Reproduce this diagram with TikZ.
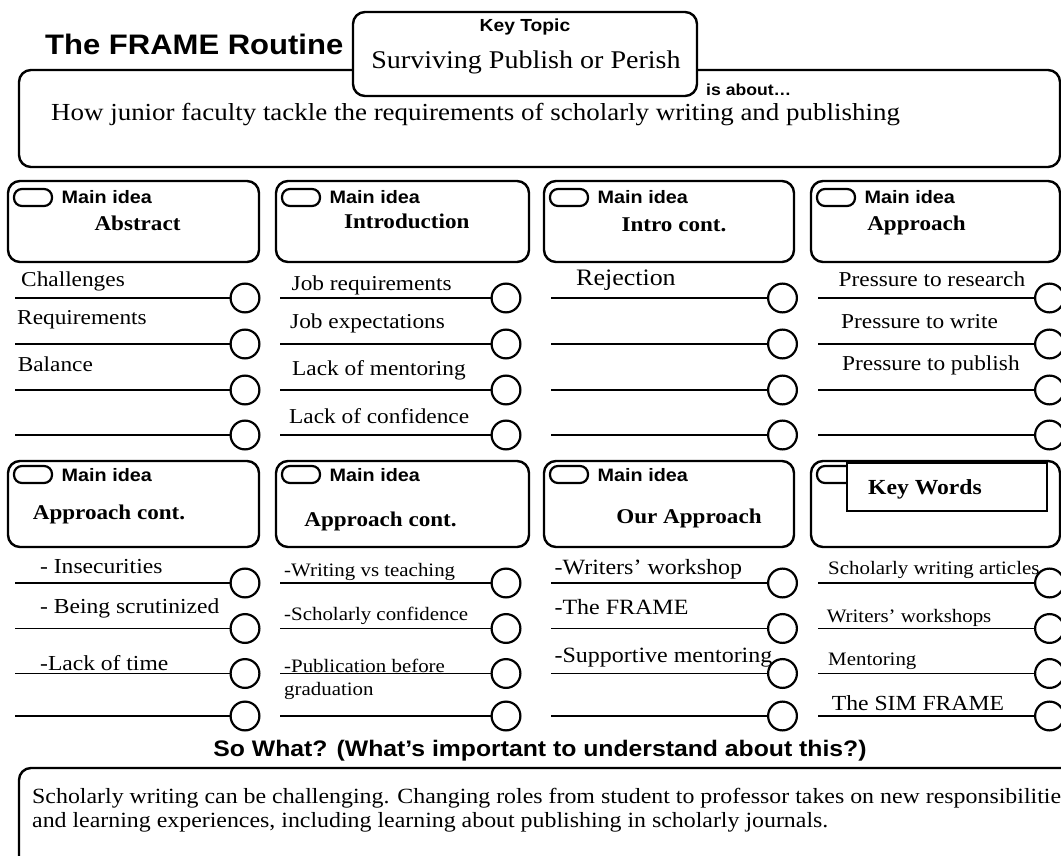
\documentclass[tikz,border=0pt]{standalone}
\usepackage{fontspec}
\setmainfont{Liberation Serif}[FakeStretch=1.1]
\setsansfont{Liberation Sans}[FakeStretch=1.1]
\begin{document}
\begin{tikzpicture}[x=1pt, y=-1pt,
    frame/.style={draw, line width=2.4pt, rounded corners=12pt, fill=white, inner sep=0pt},
    pill/.style={draw, line width=2.2pt, rounded corners=8pt, minimum width=38pt, minimum height=17pt, inner sep=0pt},
    dot/.style={draw, circle, line width=2.2pt, fill=white, minimum size=28.8pt, inner sep=0pt},
    rule/.style={line width=1.8pt},
    txt/.style={inner sep=0pt, anchor=base west},
    head/.style={txt, font=\sffamily\bfseries\fontsize{18}{20}\selectfont},
    idea/.style={inner sep=0pt, anchor=base, font=\bfseries\fontsize{21}{24}\selectfont},
    item/.style={txt, font=\fontsize{21.2}{24}\selectfont},
    small/.style={txt, font=\fontsize{19}{23}\selectfont},
  ]
    \useasboundingbox (0,0) rectangle (1061,856);
    \clip (0,0) rectangle (1061,856);

    \node[txt, font=\sffamily\bfseries\fontsize{28.2}{30}\selectfont] (title) at (45,55) {The FRAME Routine};
    \node[frame, minimum width=1041, minimum height=97] (about) at (539.5,118.5) {};
    \node[frame, minimum width=344, minimum height=84] (topic) at (525,54) {};
    \node[inner sep=0pt, anchor=base, font=\sffamily\bfseries\fontsize{17.5}{19}\selectfont] (keytopic) at (525,32) {Key Topic};
    \node[inner sep=0pt, anchor=base, font=\fontsize{25.5}{28}\selectfont] (topictext) at (526,68.4) {Surviving Publish or Perish};
    \node[txt, font=\sffamily\bfseries\fontsize{16}{18}\selectfont] (isabout) at (706,96) {is about…};
    \node[txt, font=\fontsize{24.5}{27}\selectfont] (abouttext) at (51,120.5) {How junior faculty tackle the requirements of scholarly writing and publishing};

    \foreach \c/\l/\r in {1/8/259, 2/276/529, 3/544/794, 4/811/1060} {
        \node[frame, minimum width=\r-\l, minimum height=81] (upper\c) at ({(\l+\r)/2},221.5) {};
        \node[frame, minimum width=\r-\l, minimum height=86] (lower\c) at ({(\l+\r)/2},504) {};
        \node[pill] (pillu\c) at (\l+25,197.5) {};
        \node[pill] (pilll\c) at (\l+25,474.5) {};
    }
    \foreach \c/\l in {1/8, 2/276, 3/544, 4/811}
        \node[head] (mainu\c) at (\l+53.5,204) {Main idea};
    \foreach \c/\l in {1/8, 2/276, 3/544}
        \node[head] (mainl\c) at (\l+53.5,481.5) {Main idea};

    \node[idea] (abstract) at (137.5,230) {Abstract};
    \node[idea] (intro) at (406.8,229) {Introduction};
    \node[idea] (introcont) at (674,232) {Intro cont.};
    \node[idea] (approach) at (916.5,230.5) {Approach};
    \node[idea] (approachA) at (109,519) {Approach cont.};
    \node[idea] (approachB) at (380.5,526.7) {Approach cont.};
    \node[idea] (ours) at (689,523) {Our Approach};
    \node[draw, line width=1.4pt, fill=white, minimum width=200, minimum height=48, inner sep=0pt] (keybox) at (947,487) {};
    \node[idea, font=\bfseries\fontsize{21.5}{24}\selectfont] (keywords) at (925,494.6) {Key Words};

    \foreach \x/\y/\t [count=\n] in {21/286/Challenges, 17/324/Requirements, 17.6/371.5/Balance}
        \node[item] (a\n) at (\x,\y) {\t};
    \foreach \x/\y/\t [count=\n] in {291.5/290.5/Job requirements, 290/328/Job expectations,
                                     292/375/Lack of mentoring, 289/423/Lack of confidence}
        \node[item] (b\n) at (\x,\y) {\t};
    \node[item, font=\fontsize{23.6}{26}\selectfont] (c1) at (576,285.8) {Rejection};
    \foreach \x/\y/\t [count=\n] in {838.5/286/Pressure to research, 841/328/Pressure to write,
                                     842/370.5/Pressure to publish}
        \node[item] (d\n) at (\x,\y) {\t};

    \foreach \x/\y/\t [count=\n] in {40/573/- Insecurities, 40/613.6/- Being scrutinized, 40/670/-Lack of time}
        \node[item, font=\fontsize{21.4}{24}\selectfont] (e\n) at (\x,\y) {\t};
    \node[small] (f1) at (284,576.3) {-Writing vs teaching};
    \node[small] (f2) at (284,620.3) {-Scholarly confidence};
    \node[small, align=left] (f3) at (284,695.3) {-Publication before\\graduation};
    \foreach \x/\y/\t [count=\n] in {554.4/574.2/-Writers’ workshop, 554.4/614.7/-The FRAME,
                                     554.4/662.8/-Supportive mentoring}
        \node[item, font=\fontsize{21.8}{24}\selectfont] (g\n) at (\x,\y) {\t};
    \node[small] (h1) at (828,574.3) {Scholarly writing articles};
    \node[small] (h2) at (826.6,622.3) {Writers’ workshops};
    \node[small] (h3) at (828,665.8) {Mentoring};
    \node[item, font=\fontsize{21.5}{24}\selectfont] (h4) at (831.7,710.6) {The SIM FRAME};

    \foreach \c/\s/\o in {1/15/245, 2/280/506, 3/551/782.5, 4/818/1049.5}
        \foreach \r/\y in {1/298, 2/344, 3/390, 4/435, 5/583, 6/628.5, 7/673.5, 8/716} {
            \coordinate (s\c\r) at (\s,\y);
            \node[dot] (o\c\r) at (\o,\y) {};
            \draw[rule] (s\c\r) -- (o\c\r);
        }

    \node[inner sep=0pt, anchor=base, font=\sffamily\bfseries\fontsize{22.5}{25}\selectfont] (sowhat) at (540,756) {So What? (What’s important to understand about this?)};
    \node[frame, minimum width=1071, minimum height=132] (summary) at (554.5,834) {};
    \node[txt, align=left, font=\fontsize{21.7}{23.5}\selectfont] (summarytext) at (32,827.2) {Scholarly writing can be challenging. Changing roles from student to professor takes on new responsibilities\\and learning experiences, including learning about publishing in scholarly journals.};
\end{tikzpicture}
\end{document}
